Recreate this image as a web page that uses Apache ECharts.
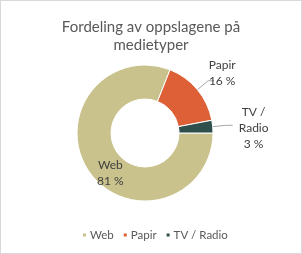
<!DOCTYPE html>
<html>
<head>
<meta charset="utf-8">
<script src="https://cdn.jsdelivr.net/npm/echarts@6/dist/echarts.min.js"></script>
<style>
html,body{margin:0;padding:0;background:#fff;}
#chart{width:302px;height:254px;box-sizing:border-box;border:1px solid #d9d9d9;}
</style>
</head>
<body>
<div id="chart"></div>
<script>
var titleText = "Fordeling av oppslagene på\nmedietyper";
var names = ["Web", "Papir", "TV / Radio"];
var values = [81, 16, 3];
var colors = ["#c9c28c", "#dd6036", "#2f4f4c"];

var pieData = [];
for (var i = 0; i < names.length; i++) {
    pieData.push({name: names[i], value: values[i], itemStyle: {color: colors[i]}});
}
// Web label sits inside the ring, the others outside with a leader line
pieData[0].label = {position: "inside"};

// small nudges so labels land where Excel put them
var labelShift = [[10, 10], [-13, -8], [0, 3]];

var myChart = echarts.init(document.getElementById("chart"));
var option = {
    animation: false,
    title: {
        text: titleText,
        left: "center",
        top: 12,
        textStyle: {fontFamily: "Lato", fontSize: 15, fontWeight: "normal", color: "#595959", lineHeight: 18}
    },
    legend: {
        bottom: 12,
        left: 80,
        padding: 0,
        icon: "rect",
        itemWidth: 5,
        itemHeight: 5,
        itemGap: 8,
        textStyle: {fontFamily: "Lato", fontSize: 11.5, color: "#595959", padding: [0, 0, 0, -2]},
        data: names
    },
    series: [{
        type: "pie",
        center: [144, 132],
        radius: [34, 68],
        startAngle: 0,
        clockwise: true,
        avoidLabelOverlap: false,
        itemStyle: {borderColor: "#fff", borderWidth: 1},
        label: {
            fontFamily: "Lato",
            fontSize: 12,
            lineHeight: 16,
            color: "#404040",
            formatter: function (p) {
                var lines = (p.name.replace(" / ", " /\n") + "\n" + p.value + " %").split("\n");
                return lines.map(function (l) { return "{t|" + l + "}"; }).join("\n");
            },
            rich: {
                t: {width: 32, align: "center", fontFamily: "Lato", fontSize: 12, lineHeight: 16, color: "#404040"}
            }
        },
        labelLine: {length: 14, length2: 6, lineStyle: {color: "#a6a6a6", width: 1}},
        labelLayout: function (params) {
            var s = labelShift[params.dataIndex];
            return {dx: s[0], dy: s[1]};
        },
        data: pieData
    }]
};
myChart.setOption(option);
</script>
</body>
</html>
